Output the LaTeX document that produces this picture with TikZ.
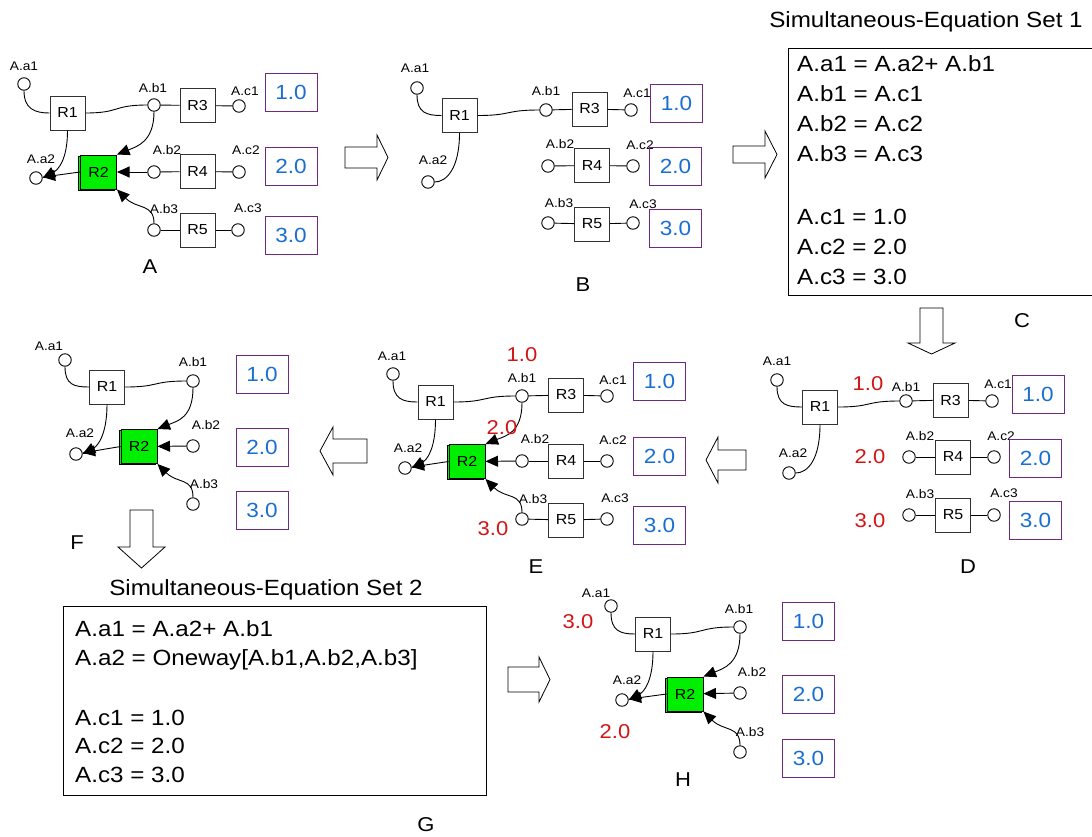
\documentclass[tikz,border=0pt]{standalone}
\usepackage{fontspec}
\setmainfont{Liberation Sans}[FakeStretch=1.1]
\usetikzlibrary{arrows.meta,shadows}
\definecolor{valblue}{RGB}{25,110,210}
\definecolor{valframe}{RGB}{112,40,130}
\definecolor{redv}{RGB}{210,20,20}
\definecolor{rgreen}{RGB}{0,238,0}
\definecolor{boxline}{RGB}{50,50,50}
\tikzset{
  port/.style={circle,draw=black,line width=0.9pt,minimum size=12.5pt,inner sep=0pt,fill=white},
  rbox/.style={draw=boxline,line width=1pt,minimum width=35pt,minimum height=34pt,inner sep=0pt,fill=white,font=\fontsize{14.5}{16}\selectfont},
  rgbox/.style={draw=black,line width=1pt,minimum width=36pt,minimum height=34pt,inner sep=0pt,fill=rgreen,font=\fontsize{14.5}{16}\selectfont,
     copy shadow={shadow xshift=-1.6pt,shadow yshift=-1.2pt}},
  valbox/.style={draw=valframe,line width=1pt,minimum width=52pt,minimum height=38pt,inner sep=0pt,text=valblue,font=\fontsize{20.5}{22}\selectfont},
  lbl/.style={inner sep=0pt,font=\fontsize{12.5}{14}\selectfont},
  redval/.style={inner sep=0pt,text=redv,font=\fontsize{20}{22}\selectfont},
  plet/.style={inner sep=0pt,font=\fontsize{20}{22}\selectfont},
  eqline/.style={inner sep=0pt,anchor=base west,font=\fontsize{22}{26}\selectfont},
  eqtitle/.style={inner sep=0pt,anchor=base,font=\fontsize{22}{26}\selectfont},
  conn/.style={draw=black,line width=0.9pt},
  arr/.style={conn,-{Triangle[length=12.5pt,width=11pt]}},
  bigarrow/.style={draw=black,line width=0.8pt,fill=white,line join=miter},
  framebox/.style={draw=black,line width=1pt}
}
\begin{document}
\begin{tikzpicture}[x=1pt,y=-1pt]
\useasboundingbox (0,0) rectangle (1092,836);

% ================= Panel A =================
\node[port] (Aa1) at (24,84) {};
\node[lbl] (Aa1l) at (24,66) {A.a1};
\node[rbox] (AR1) at (67.5,113) {R1};
\node[port] (Ab1) at (154,105) {};
\node[lbl] (Ab1l) at (153,88) {A.b1};
\node[rbox] (AR3) at (197.5,105.5) {R3};
\node[port] (Ac1) at (239,106) {};
\node[lbl] (Ac1l) at (245,91) {A.c1};
\node[valbox] (Av1) at (291,92) {1.0};
\node[port] (Aa2) at (36,178) {};
\node[lbl] (Aa2l) at (41,159) {A.a2};
\node[rgbox] (AR2) at (98.5,172) {R2};
\node[port] (Ab2) at (154,172) {};
\node[lbl] (Ab2l) at (167,150) {A.b2};
\node[rbox] (AR4) at (197.5,171.5) {R4};
\node[port] (Ac2) at (239,172) {};
\node[lbl] (Ac2l) at (246,150) {A.c2};
\node[valbox] (Av2) at (291,166) {2.0};
\node[port] (Ab3) at (154,230) {};
\node[lbl] (Ab3l) at (164,209) {A.b3};
\node[rbox] (AR5) at (197.5,230) {R5};
\node[port] (Ac3) at (238,230) {};
\node[lbl] (Ac3l) at (248,208) {A.c3};
\node[valbox] (Av3) at (291,235) {3.0};
\node[plet] (Alet) at (150,267) {A};
\draw[conn] (Aa1.south) .. controls +(0,18) and +(-15,0) .. (AR1.west);
\draw[conn] (AR1.east) .. controls +(35,0) and +(-35,0) .. (Ab1.west);
\draw[conn] (Ab1) -- (AR3); \draw[conn] (AR3) -- (Ac1);
\draw[conn] (Ab2) -- (AR4); \draw[conn] (AR4) -- (Ac2);
\draw[conn] (Ab3) -- (AR5); \draw[conn] (AR5) -- (Ac3);
\draw[arr] (Ab1.south) .. controls +(0,30) and +(20,-8) .. (AR2.north east);
\draw[arr] (AR1.south) .. controls +(0,30) and +(15,-8) .. (Aa2.east);
\draw[arr] (AR2.west) -- (Aa2);
\draw[arr] (Ab2) -- (AR2);
\draw[arr] (Ab3.north) .. controls +(0,-20) and +(20,20) .. (AR2.south east);

% ================= Panel B =================
\node[port] (Ba1) at (417,88) {};
\node[lbl] (Ba1l) at (415,68) {A.a1};
\node[rbox] (BR1) at (459.5,115.5) {R1};
\node[port] (Ba2) at (428,182) {};
\node[lbl] (Ba2l) at (433,160) {A.a2};
\node[port] (Bb1) at (546,110) {};
\node[lbl] (Bb1l) at (546,91) {A.b1};
\node[rbox] (BR3) at (589.5,109) {R3};
\node[port] (Bc1) at (631,110) {};
\node[lbl] (Bc1l) at (637,93) {A.c1};
\node[valbox] (Bv1) at (676.5,103) {1.0};
\node[port] (Bb2) at (548,166) {};
\node[lbl] (Bb2l) at (560,144) {A.b2};
\node[rbox] (BR4) at (592,165.5) {R4};
\node[port] (Bc2) at (633,166) {};
\node[lbl] (Bc2l) at (640,145) {A.c2};
\node[valbox] (Bv2) at (675.5,166) {2.0};
\node[port] (Bb3) at (548,223) {};
\node[lbl] (Bb3l) at (559,203) {A.b3};
\node[rbox] (BR5) at (592,224) {R5};
\node[port] (Bc3) at (633,223) {};
\node[lbl] (Bc3l) at (643,204) {A.c3};
\node[valbox] (Bv3) at (675.5,228) {3.0};
\node[plet] (Blet) at (583,285) {B};
\draw[conn] (Ba1.south) .. controls +(0,18) and +(-15,0) .. (BR1.west);
\draw[conn] (BR1.east) .. controls +(35,0) and +(-35,0) .. (Bb1.west);
\draw[conn] (BR1.south) .. controls +(0,35) and +(12,0) .. (Ba2.east);
\draw[conn] (Bb1) -- (BR3); \draw[conn] (BR3) -- (Bc1);
\draw[conn] (Bb2) -- (BR4); \draw[conn] (BR4) -- (Bc2);
\draw[conn] (Bb3) -- (BR5); \draw[conn] (BR5) -- (Bc3);

% ================= Panel C =================
\node[eqtitle] (Ctitle) at (926,27) {Simultaneous-Equation Set 1};
\draw[framebox] (788,48) rectangle (1095,295);
\node[eqline] (C1) at (797,71) {A.a1 = A.a2+ A.b1};
\node[eqline] (C2) at (797,101) {A.b1 = A.c1};
\node[eqline] (C3) at (797,131) {A.b2 = A.c2};
\node[eqline] (C4) at (797,161) {A.b3 = A.c3};
\node[eqline] (C5) at (797,224) {A.c1 = 1.0};
\node[eqline] (C6) at (797,254) {A.c2 = 2.0};
\node[eqline] (C7) at (797,284) {A.c3 = 3.0};
\node[plet] (Clet) at (1022,321) {C};

% ================= Panel D =================
\node[port] (Da1) at (777,380) {};
\node[lbl] (Da1l) at (777,361) {A.a1};
\node[rbox] (DR1) at (820,407) {R1};
\node[port] (Da2) at (789,473) {};
\node[lbl] (Da2l) at (793,453) {A.a2};
\node[redval] (Dr1) at (868,384) {1.0};
\node[port] (Db1) at (906,401) {};
\node[lbl] (Db1l) at (906,387) {A.b1};
\node[rbox] (DR3) at (950.5,400) {R3};
\node[port] (Dc1) at (992,401) {};
\node[lbl] (Dc1l) at (998,384) {A.c1};
\node[valbox] (Dv1) at (1038,394.5) {1.0};
\node[redval] (Dr2) at (870,457) {2.0};
\node[port] (Db2) at (909,457) {};
\node[lbl] (Db2l) at (920,436) {A.b2};
\node[rbox] (DR4) at (953,457) {R4};
\node[port] (Dc2) at (994,457) {};
\node[lbl] (Dc2l) at (1001,436) {A.c2};
\node[valbox] (Dv2) at (1035.5,458) {2.0};
\node[redval] (Dr3) at (870,521) {3.0};
\node[port] (Db3) at (909,515) {};
\node[lbl] (Db3l) at (920,494) {A.b3};
\node[rbox] (DR5) at (953,515) {R5};
\node[port] (Dc3) at (994,515) {};
\node[lbl] (Dc3l) at (1004,493) {A.c3};
\node[valbox] (Dv3) at (1035.5,520) {3.0};
\node[plet] (Dlet) at (968,567) {D};
\draw[conn] (Da1.south) .. controls +(0,18) and +(-15,0) .. (DR1.west);
\draw[conn] (DR1.east) .. controls +(35,0) and +(-35,0) .. (Db1.west);
\draw[conn] (DR1.south) .. controls +(0,35) and +(12,0) .. (Da2.east);
\draw[conn] (Db1) -- (DR3); \draw[conn] (DR3) -- (Dc1);
\draw[conn] (Db2) -- (DR4); \draw[conn] (DR4) -- (Dc2);
\draw[conn] (Db3) -- (DR5); \draw[conn] (DR5) -- (Dc3);

% ================= Panel E =================
\node[port] (Ea1) at (393,374) {};
\node[lbl] (Ea1l) at (392,356) {A.a1};
\node[rbox] (ER1) at (435.5,402) {R1};
\node[redval] (Er1) at (522,355) {1.0};
\node[port] (Eb1) at (522,396) {};
\node[lbl] (Eb1l) at (522,378) {A.b1};
\node[rbox] (ER3) at (566,395) {R3};
\node[port] (Ec1) at (607,396) {};
\node[lbl] (Ec1l) at (613,380) {A.c1};
\node[valbox] (Ev1) at (659.5,381) {1.0};
\node[port] (Ea2) at (405,468) {};
\node[lbl] (Ea2l) at (408,448) {A.a2};
\node[rgbox] (ER2) at (467,461.5) {R2};
\node[port] (Eb2) at (522,461) {};
\node[lbl] (Eb2l) at (535,439) {A.b2};
\node[rbox] (ER4) at (566,461) {R4};
\node[port] (Ec2) at (607,461) {};
\node[lbl] (Ec2l) at (613,440) {A.c2};
\node[valbox] (Ev2) at (659.5,456) {2.0};
\node[port] (Eb3) at (522,519) {};
\node[lbl] (Eb3l) at (533,499) {A.b3};
\node[rbox] (ER5) at (566,520) {R5};
\node[port] (Ec3) at (607,519) {};
\node[lbl] (Ec3l) at (615,498) {A.c3};
\node[valbox] (Ev3) at (659.5,525) {3.0};
\node[redval] (Er3) at (493,529) {3.0};
\node[plet] (Elet) at (536,567) {E};
\draw[conn] (Ea1.south) .. controls +(0,18) and +(-15,0) .. (ER1.west);
\draw[conn] (ER1.east) .. controls +(35,0) and +(-35,0) .. (Eb1.west);
\draw[conn] (Eb1) -- (ER3); \draw[conn] (ER3) -- (Ec1);
\draw[conn] (Eb2) -- (ER4); \draw[conn] (ER4) -- (Ec2);
\draw[conn] (Eb3) -- (ER5); \draw[conn] (ER5) -- (Ec3);
\draw[arr] (Eb1.south) .. controls +(0,30) and +(20,-8) .. (ER2.north east);
\draw[arr] (ER1.south) .. controls +(0,30) and +(15,-8) .. (Ea2.east);
\draw[arr] (ER2.west) -- (Ea2);
\draw[arr] (Eb2) -- (ER2);
\draw[arr] (Eb3.north) .. controls +(0,-20) and +(20,20) .. (ER2.south east);
\node[redval] (Er2) at (502,428) {2.0};

% ================= Panel F =================
\node[port] (Fa1) at (65,360) {};
\node[lbl] (Fa1l) at (49,346) {A.a1};
\node[rbox] (FR1) at (107,387) {R1};
\node[port] (Fb1) at (193,381) {};
\node[lbl] (Fb1l) at (193,362) {A.b1};
\node[valbox] (Fv1) at (262,374) {1.0};
\node[port] (Fa2) at (76,454) {};
\node[lbl] (Fa2l) at (80,433) {A.a2};
\node[rgbox] (FR2) at (139,446.5) {R2};
\node[port] (Fb2) at (193,446) {};
\node[lbl] (Fb2l) at (206,425) {A.b2};
\node[valbox] (Fv2) at (262,447.5) {2.0};
\node[port] (Fb3) at (193,504) {};
\node[lbl] (Fb3l) at (204,484) {A.b3};
\node[valbox] (Fv3) at (262,510.5) {3.0};
\node[plet] (Flet) at (77,543) {F};
\draw[conn] (Fa1.south) .. controls +(0,18) and +(-15,0) .. (FR1.west);
\draw[conn] (FR1.east) .. controls +(35,0) and +(-35,0) .. (Fb1.west);
\draw[arr] (Fb1.south) .. controls +(0,30) and +(20,-8) .. (FR2.north east);
\draw[arr] (FR1.south) .. controls +(0,30) and +(15,-8) .. (Fa2.east);
\draw[arr] (FR2.west) -- (Fa2);
\draw[arr] (Fb2) -- (FR2);
\draw[arr] (Fb3.north) .. controls +(0,-20) and +(20,20) .. (FR2.south east);

% ================= Panel G =================
\node[eqtitle] (Gtitle) at (266,595) {Simultaneous-Equation Set 2};
\draw[framebox] (63,606) rectangle (486,795);
\node[eqline] (G1) at (75,636) {A.a1 = A.a2+ A.b1};
\node[eqline] (G2) at (75,665) {A.a2 = Oneway[A.b1,A.b2,A.b3]};
\node[eqline] (G3) at (75,725) {A.c1 = 1.0};
\node[eqline] (G4) at (75,753) {A.c2 = 2.0};
\node[eqline] (G5) at (75,782) {A.c3 = 3.0};
\node[plet] (Glet) at (426,825) {G};

% ================= Panel H =================
\node[port] (Ha1) at (611,606) {};
\node[lbl] (Ha1l) at (596,593) {A.a1};
\node[redval] (Hr3) at (578,622) {3.0};
\node[rbox] (HR1) at (653,634) {R1};
\node[port] (Hb1) at (740,627) {};
\node[lbl] (Hb1l) at (739,609) {A.b1};
\node[valbox] (Hv1) at (808.5,621) {1.0};
\node[port] (Ha2) at (622,700) {};
\node[lbl] (Ha2l) at (627,680) {A.a2};
\node[rgbox] (HR2) at (685,694) {R2};
\node[port] (Hb2) at (740,693) {};
\node[lbl] (Hb2l) at (752,672) {A.b2};
\node[valbox] (Hv2) at (808.5,694.5) {2.0};
\node[redval] (Hr2) at (615,732) {2.0};
\node[port] (Hb3) at (740,752) {};
\node[lbl] (Hb3l) at (750,732) {A.b3};
\node[valbox] (Hv3) at (808.5,758) {3.0};
\node[plet] (Hlet) at (683,780) {H};
\draw[conn] (Ha1.south) .. controls +(0,18) and +(-15,0) .. (HR1.west);
\draw[conn] (HR1.east) .. controls +(35,0) and +(-35,0) .. (Hb1.west);
\draw[arr] (Hb1.south) .. controls +(0,30) and +(20,-8) .. (HR2.north east);
\draw[arr] (HR1.south) .. controls +(0,30) and +(15,-8) .. (Ha2.east);
\draw[arr] (HR2.west) -- (Ha2);
\draw[arr] (Hb2) -- (HR2);
\draw[arr] (Hb3.north) .. controls +(0,-20) and +(20,20) .. (HR2.south east);

% ================= Block arrows =================
% A -> B
\draw[bigarrow] (345,147) -- (377,147) -- (377,135) -- (388,157.5) -- (377,180) -- (377,168) -- (345,168) -- cycle;
% B -> C
\draw[bigarrow] (733,146) -- (765,146) -- (765,131) -- (777,154.5) -- (765,178) -- (765,163) -- (733,163) -- cycle;
% C -> D
\draw[bigarrow] (920,308) -- (920,343) -- (908,343) -- (931.5,354) -- (955,343) -- (943,343) -- (943,308) -- cycle;
% D -> E
\draw[bigarrow] (746,450) -- (718,450) -- (718,437) -- (706,460) -- (718,483) -- (718,470) -- (746,470) -- cycle;
% E -> F
\draw[bigarrow] (367,439) -- (333,439) -- (333,427) -- (320,451) -- (333,475) -- (333,463) -- (367,463) -- cycle;
% F -> G
\draw[bigarrow] (130,510) -- (130,547) -- (118,547) -- (141.5,568) -- (165,547) -- (153,547) -- (153,510) -- cycle;
% G -> H
\draw[bigarrow] (508,667) -- (539,667) -- (539,657) -- (550,679.5) -- (539,702) -- (539,692) -- (508,692) -- cycle;
\end{tikzpicture}
\end{document}
